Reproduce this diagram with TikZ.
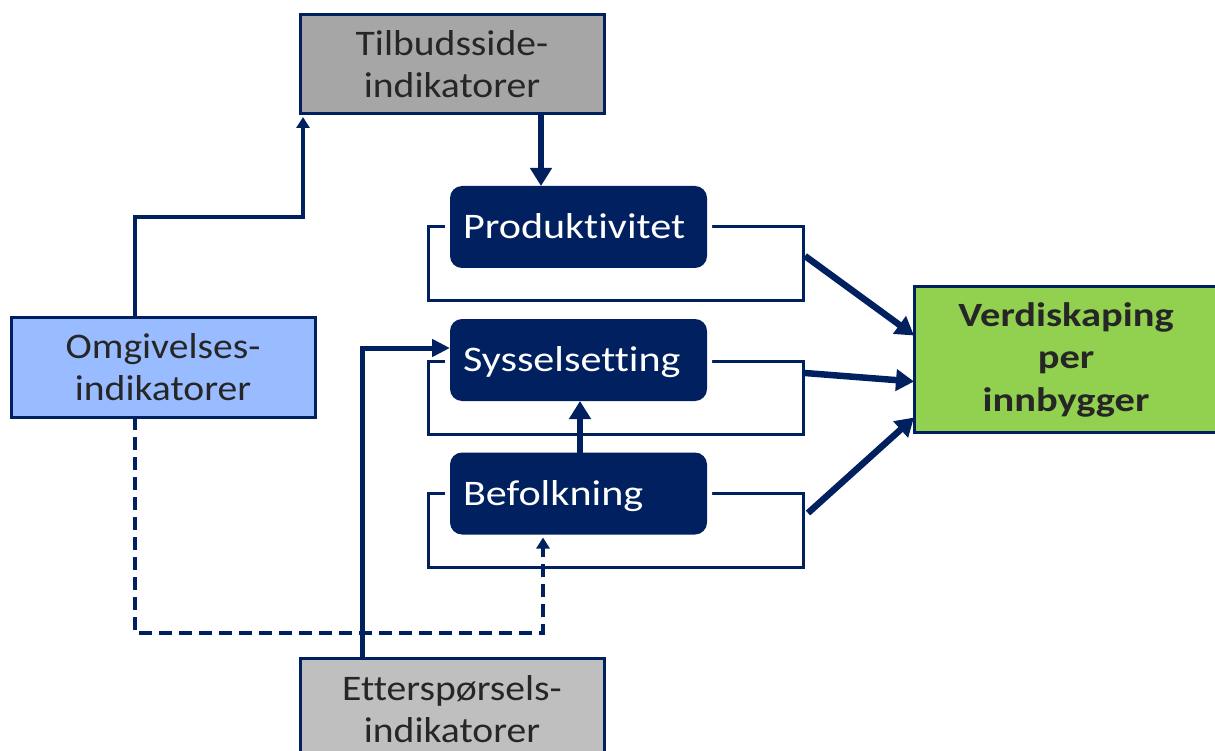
\documentclass[tikz,border=0pt]{standalone}
\usepackage{fontspec}
\setmainfont{Carlito}[FakeStretch=1.1, Ligatures=CommonOff]
\newfontfamily\widefont{Carlito}[FakeStretch=1.17, Ligatures=CommonOff]
\newfontfamily\boldwide{Carlito}[FakeStretch=1.19, Ligatures=CommonOff]
\usetikzlibrary{arrows.meta,calc}
\definecolor{navy}{RGB}{0,32,96}
\definecolor{txtgray}{RGB}{38,38,38}
\definecolor{graytop}{RGB}{166,166,166}
\definecolor{graybot}{RGB}{191,191,191}
\definecolor{lightblue}{RGB}{153,187,255}
\definecolor{greenbox}{RGB}{146,208,80}
\tikzset{
  sqbox/.style={draw=navy, line width=3pt, text=txtgray, align=center,
    font=\fontsize{36}{42}\selectfont, inner sep=0pt, outer sep=0pt,
    minimum width=304pt},
  rbox/.style={fill=navy, rounded corners=12pt, minimum width=257pt,
    minimum height=82pt, text=white, font=\widefont\fontsize{36}{42}\selectfont,
    text width=231pt, align=left, inner xsep=13pt, inner ysep=0pt,
    text height=23pt, text depth=0pt, outer sep=0pt,
    preaction={draw=white, line width=10pt}},
  frame/.style={draw=navy, line width=3pt},
  thinarrow/.style={draw=navy, line width=4pt, -{Triangle[length=11pt,width=13pt]}},
  medarrow/.style={draw=navy, line width=5pt, -{Triangle[length=18pt,width=17pt]}},
  bigarrow/.style={draw=navy, line width=6.5pt, -{Triangle[length=18pt,width=21pt]}},
  dasharrow/.style={draw=navy, line width=4pt, dash pattern=on 13pt off 7pt,
    -{Triangle[length=11pt,width=13pt]}},
}
\begin{document}
\begin{tikzpicture}[x=1pt,y=-1pt]
\useasboundingbox (0,0) rectangle (1215,751);
\clip (0,0) rectangle (1215,751);
\fill[white] (0,0) rectangle (1215,751);

% frames behind the rounded boxes
\draw[frame] (428,227) rectangle (803,300);
\draw[frame] (428,361) rectangle (803,434);
\draw[frame] (428,493) rectangle (803,567);

% boxes
\node[sqbox, fill=graytop, minimum height=99pt] (tb) at (452,64.5) {Tilbudsside-\\indikatorer};
\node[sqbox, fill=lightblue, minimum height=100pt] (om) at (163,367) {Omgivelses-\\indikatorer};
\node[sqbox, fill=graybot, minimum height=102pt] (et) at (452,709) {Etterspørsels-\\indikatorer};
\node[sqbox, fill=greenbox, minimum width=304pt, minimum height=145pt,
  font=\boldwide\bfseries\fontsize{34}{42.5}\selectfont] (vd) at (1066,359.5) {Verdiskaping\\per\\innbygger};

\node[rbox] (pr) at (578.5,227) {Produktivitet};
\node[rbox] (sy) at (578.5,360) {Sysselsetting};
\node[rbox] (bf) at (578.5,493.5) {Befolkning};

% helper coordinates
\coordinate (a1) at (135,217);
\coordinate (a2) at (303,217);
\coordinate (t1) at (541,0);
\coordinate (b1) at (580,0);
\coordinate (e1) at (362,348);
\coordinate (d1) at (135,633);
\coordinate (d2) at (543,633);
\coordinate (f1) at (805,256);
\coordinate (f2) at (805,373);
\coordinate (f3) at (808,513);

% connectors
\draw[thinarrow] (om.north -| a1) -- (a1) -- (a2) -- ($(tb.south -| a2)+(0,3)$);
\draw[bigarrow] (tb.south -| t1) -- (pr.north -| t1);
\draw[bigarrow] (bf.north -| b1) -- (sy.south -| b1);
\draw[medarrow] (et.north -| e1) -- (e1) -- (sy.west |- e1);
\draw[dasharrow] (om.south -| d1) -- (d1) -- (d2) -- ($(bf.south -| d2)+(0,3)$);
\draw[bigarrow] (f1) -- ($(vd.west)+(0,-24)$);
\draw[bigarrow] (f2) -- ($(vd.west)+(0,22)$);
\draw[bigarrow] (f3) -- ($(vd.west)+(0,58)$);
\end{tikzpicture}
\end{document}
